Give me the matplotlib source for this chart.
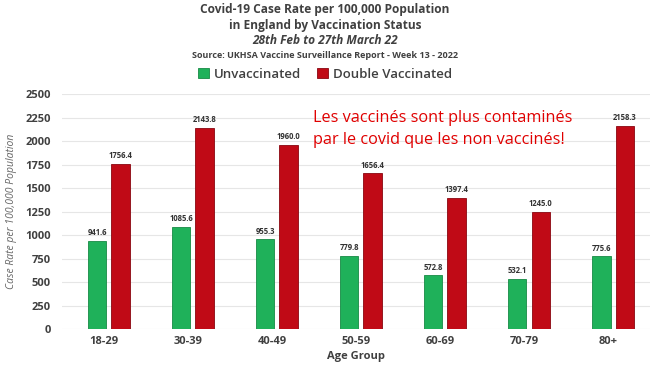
import numpy as np
import matplotlib.pyplot as plt

groupes = ['18-29', '30-39', '40-49', '50-59', '60-69', '70-79', '80+']
non_vacc = [941.6, 1085.6, 955.3, 779.8, 572.8, 532.1, 775.6]
double_vacc = [1756.4, 2143.8, 1960.0, 1656.4, 1397.4, 1245.0, 2158.3]
yticks = [0, 250, 500, 750, 1000, 1250, 1500, 1750, 2000, 2250, 2500]

vert = '#1fb15a'
rouge = '#c00a16'
gris = '#404040'

plt.rcParams['font.family'] = ['Open Sans', 'DejaVu Sans']

fig = plt.figure(figsize=(6.5, 3.72), dpi=100)
ax = fig.add_axes([0.095, 0.115, 0.905, 0.632])

x = np.arange(len(groupes))
w = 0.22
b1 = ax.bar(x - 0.14 + 0.06, non_vacc, w, color=vert, edgecolor='#178a45', linewidth=0.6,
            label='Unvaccinated')
b2 = ax.bar(x + 0.14 + 0.06, double_vacc, w, color=rouge, edgecolor='#8a0610', linewidth=0.6,
            label='Double Vaccinated')

# valeurs au-dessus des barres
for barres, vals in [(b1, non_vacc), (b2, double_vacc)]:
    for b, v in zip(barres, vals):
        ax.text(b.get_x() + b.get_width() / 2, v + 40, f'{v:.1f}', ha='center', va='bottom',
                fontsize=5.5, fontweight='bold', color='#333333')

ax.set_xlim(-0.5, 6.5)
ax.set_ylim(0, 2500)
ax.set_yticks(yticks)
ax.set_xticks(x)
ax.set_xticklabels(groupes, fontsize=8, fontweight='bold', color=gris)
ax.tick_params(axis='y', labelsize=8, labelcolor=gris, length=0, pad=8)
ax.tick_params(axis='x', length=0, pad=5)
for lab in ax.get_yticklabels():
    lab.set_fontweight('bold')
ax.grid(axis='y', color='#e6e6e6', linewidth=0.8)
ax.set_axisbelow(True)
for s in ax.spines.values():
    s.set_visible(False)

ax.set_ylabel('Case Rate per 100,000 Population', fontsize=7.5, style='italic', color='#666666',
              labelpad=6)
ax.set_xlabel('Age Group', fontsize=8, fontweight='bold', color=gris, labelpad=3)

# titres
fig.text(0.5, 1 - 9 / 372, 'Covid-19 Case Rate per 100,000 Population', ha='center', va='center',
         fontsize=8.6, fontweight='bold', color=gris)
fig.text(0.5, 1 - 25 / 372, 'in England by Vaccination Status', ha='center', va='center',
         fontsize=8.6, fontweight='bold', color=gris)
fig.text(0.5, 1 - 41 / 372, '28th Feb to 27th March 22', ha='center', va='center',
         fontsize=8.6, fontweight='bold', style='italic', color=gris)
fig.text(0.5, 1 - 56 / 372, 'Source: UKHSA Vaccine Surveillance Report - Week 13 - 2022', ha='center',
         va='center', fontsize=6.5, fontweight='bold', color=gris)

leg = fig.legend(handles=[b1, b2], loc='center', bbox_to_anchor=(0.5, 1 - 74 / 372), ncol=2,
                 frameon=False, fontsize=9.5, handlelength=0.8, handleheight=0.8,
                 columnspacing=1.2, handletextpad=0.4, labelcolor=gris)
for t in leg.get_texts():
    t.set_fontweight('semibold')

ax.text(313 / 650, 1 - 129 / 372, 'Les vaccinés sont plus contaminés\npar le covid que les non vaccinés!',
        transform=fig.transFigure, fontsize=11.7, color='#e00000', va='center', ha='left',
        linespacing=1.55)

fig.savefig('out.png', dpi=100)
